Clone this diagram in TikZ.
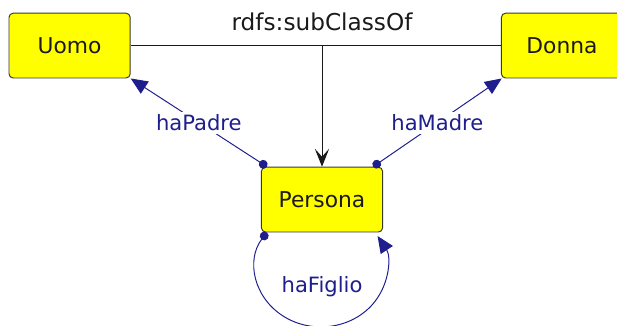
\documentclass[tikz,border=0pt]{standalone}
\usepackage{fontspec}
\setmainfont{DejaVu Sans}
\usetikzlibrary{arrows.meta, positioning}
\definecolor{boxyellow}{HTML}{FFFF00}
\definecolor{boxline}{HTML}{3A3A2A}
\definecolor{propblue}{HTML}{1E1E8C}
\definecolor{darkink}{HTML}{1A1A1A}

\tikzset{
  classbox/.style={draw=boxline, fill=boxyellow, rounded corners=3pt, line width=0.7pt,
    minimum width=3.03cm, minimum height=1.62cm, font=\fontsize{15.5}{18}\selectfont, text=darkink},
  proplink/.style={draw=propblue, line width=0.7pt,
    {Circle[length=0.22cm]}-{Triangle[length=0.42cm, width=0.36cm]}},
  proplabel/.style={fill=white, text=propblue, font=\fontsize{15}{18}\selectfont, inner sep=2pt}
}

\begin{document}
\begin{tikzpicture}
  \useasboundingbox (0,0) rectangle (15.425,8.15);
  % classes
  \node[classbox] (uomo) at (1.74,7.01) {Uomo};
  \node[classbox] (donna) at (14.05,7.01) {Donna};
  \node[classbox] (persona) at (8.05,3.16) {Persona};
  % subclass
  \coordinate (sub) at (persona.north |- uomo.east);
  \draw[darkink, line width=0.7pt] (uomo.east) -- (donna.west);
  \node[font=\fontsize{16.5}{18}\selectfont, text=darkink] (subname) at (8.05,7.6) {rdfs:subClassOf};
  \draw[darkink, line width=0.7pt, -{Stealth[length=0.45cm, width=0.36cm, inset=0.2cm]}]
    (sub) -- (persona.north);
  % properties
  \draw[proplink] ([xshift=0.15cm]persona.north west) -- node[proplabel] (padre) {haPadre} (uomo.south east);
  \draw[proplink] ([xshift=-0.25cm]persona.north east) -- node[proplabel] (madre) {haMadre} ([xshift=0.02cm]donna.south west);
  \draw[proplink] ([xshift=0.15cm]persona.south west)
    arc[start angle=145, end angle=391, x radius=1.65cm, y radius=1.5cm];
  \node[text=propblue, font=\fontsize{15}{18}\selectfont] (figlio) at (8.05,0.98) {haFiglio};
\end{tikzpicture}
\end{document}
